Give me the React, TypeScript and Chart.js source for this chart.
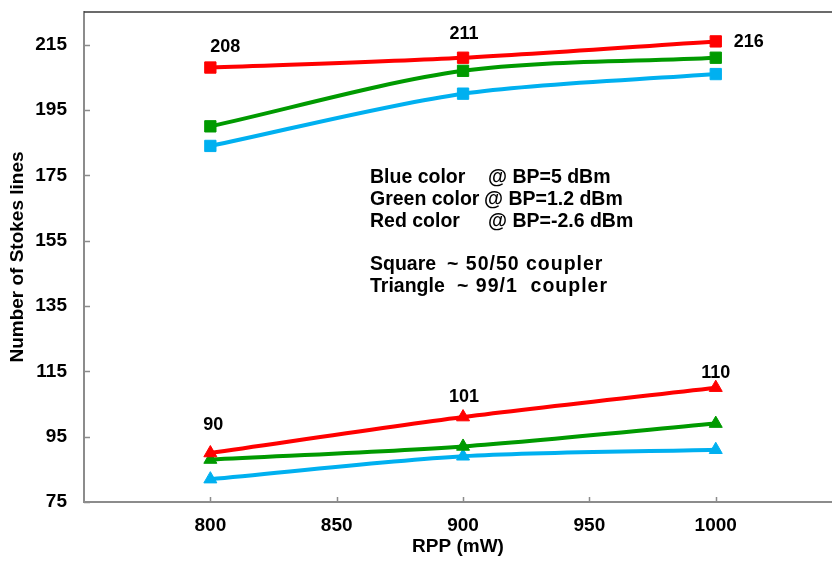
import React, { useEffect, useRef } from 'react';
import { Chart, registerables } from 'chart.js';

Chart.register(...registerables);

// ---- data ----
const rppValues = [800, 900, 1000];
const redSquare = [208, 211, 216];
const greenSquare = [190, 207, 211];
const blueSquare = [184, 200, 206];
const redTriangle = [90, 101, 110];
const greenTriangle = [88, 92, 99];
const blueTriangle = [82, 89, 91];

const xTickValues = [800, 850, 900, 950, 1000];
const yTickValues = [75, 95, 115, 135, 155, 175, 195, 215];

const noteRows = [
  ['Blue color', '@ BP=5 dBm'],
  ['Green color', '@ BP=1.2 dBm'],
  ['Red color', '@ BP=-2.6 dBm'],
  ['Square', '~ 50/50 coupler'],
  ['Triangle', '~ 99/1  coupler'],
];

// ---- styles / layout ----
const FONT = '"Liberation Sans", Arial, sans-serif';
const RED = '#FF0000';
const GREEN = '#009A00';
const BLUE = '#00B0F0';
const AXIS = '#8C8C8C';

// label offsets (px) from the point for the annotated series
const redSquareLabelOffsets = [[15, -21], [1, -24], [33, 1]];
const redTriangleLabelOffsets = [[3, -28], [1, -20], [0, -15]];

// note text placement (px): column x, baselines, extra letter spacing
const noteCol1X = 370;
const noteCol2X = [488, 484, 488, 447, 457];
const noteBaselines = [183, 205, 227, 270, 292];
const noteCol2Spacing = ['0px', '0px', '0px', '1px', '1px'];

function toPoints(ys: number[]) {
  return rppValues.map((x, i) => ({ x, y: ys[i] }));
}

function series(label: string, ys: number[], color: string, style: string, radius: number) {
  return {
    label,
    data: toPoints(ys),
    borderColor: color,
    backgroundColor: color,
    borderWidth: 4,
    pointStyle: style,
    pointRadius: radius,
    pointHoverRadius: radius,
    pointBorderWidth: 1,
    pointBorderColor: color,
    pointBackgroundColor: color,
    tension: 0.3,
    fill: false,
  };
}

const decorPlugin = {
  id: 'decor',
  beforeDatasetsDraw(chart: any) {
    const { ctx, chartArea, scales } = chart;
    ctx.save();
    // top border of plot area
    ctx.strokeStyle = '#3A3A3A';
    ctx.lineWidth = 1.5;
    ctx.beginPath();
    ctx.moveTo(chartArea.left, chartArea.top);
    ctx.lineTo(chartArea.right, chartArea.top);
    ctx.stroke();
    // inward tick marks
    ctx.strokeStyle = AXIS;
    ctx.lineWidth = 1.5;
    ctx.beginPath();
    scales.y.ticks.forEach((t: any) => {
      const py = Math.round(scales.y.getPixelForValue(t.value)) + 0.5;
      ctx.moveTo(chartArea.left, py);
      ctx.lineTo(chartArea.left + 6, py);
    });
    scales.x.ticks.forEach((t: any) => {
      const px = Math.round(scales.x.getPixelForValue(t.value)) + 0.5;
      ctx.moveTo(px, chartArea.bottom);
      ctx.lineTo(px, chartArea.bottom - 5);
    });
    ctx.stroke();
    ctx.restore();
  },
  afterDatasetsDraw(chart: any) {
    const { ctx } = chart;
    ctx.save();
    ctx.fillStyle = '#000';
    ctx.font = `bold 18px ${FONT}`;
    ctx.textAlign = 'center';
    ctx.textBaseline = 'middle';
    const drawLabels = (dsIndex: number, values: number[], offsets: number[][]) => {
      const meta = chart.getDatasetMeta(dsIndex);
      meta.data.forEach((pt: any, i: number) => {
        ctx.fillText(String(values[i]), pt.x + offsets[i][0], pt.y + offsets[i][1]);
      });
    };
    drawLabels(0, redSquare, redSquareLabelOffsets);
    drawLabels(3, redTriangle, redTriangleLabelOffsets);

    // note text
    ctx.font = `bold 19.5px ${FONT}`;
    ctx.textAlign = 'left';
    ctx.textBaseline = 'alphabetic';
    noteRows.forEach((row, i) => {
      ctx.letterSpacing = '0px';
      ctx.fillText(row[0], noteCol1X, noteBaselines[i]);
      ctx.letterSpacing = noteCol2Spacing[i];
      ctx.fillText(row[1], noteCol2X[i], noteBaselines[i]);
    });
    ctx.letterSpacing = '0px';
    ctx.restore();
  },
};

const zeroPad = (scale: any) => {
  scale.paddingTop = 0;
  scale.paddingBottom = 0;
  scale.paddingLeft = 0;
  scale.paddingRight = 0;
};

export default function App() {
  const ref = useRef<HTMLCanvasElement>(null);
  useEffect(() => {
    if (!ref.current) return;
    const chart = new Chart(ref.current, {
      type: 'line',
      data: {
        datasets: [
          series('Red square', redSquare, RED, 'rect', 8),
          series('Green square', greenSquare, GREEN, 'rect', 8),
          series('Blue square', blueSquare, BLUE, 'rect', 8),
          series('Red triangle', redTriangle, RED, 'triangle', 7.5),
          series('Green triangle', greenTriangle, GREEN, 'triangle', 7.5),
          series('Blue triangle', blueTriangle, BLUE, 'triangle', 7.5),
        ] as any,
      },
      options: {
        animation: false,
        responsive: false,
        layout: { autoPadding: false, padding: { top: 12, right: 0, left: 0, bottom: 0 } },
        plugins: {
          legend: { display: false },
          tooltip: { enabled: false },
        },
        scales: {
          x: {
            type: 'linear',
            min: 750,
            max: 1046,
            afterBuildTicks: (scale: any) => {
              scale.ticks = xTickValues.map((v) => ({ value: v }));
            },
            afterFit: (scale: any) => {
              scale.height = 61;
              zeroPad(scale);
            },
            grid: { display: false, drawTicks: false },
            border: { display: true, color: AXIS, width: 2 },
            ticks: {
              padding: 12,
              color: '#000',
              font: { family: FONT, size: 19, weight: 'bold' },
              maxRotation: 0,
              callback: (v: any) => String(v),
            },
            title: {
              display: true,
              text: 'RPP (mW)',
              color: '#000',
              font: { family: FONT, size: 19, weight: 'bold' },
              padding: { top: 0, bottom: 5 },
            },
          },
          y: {
            type: 'linear',
            min: 75,
            max: 225,
            afterBuildTicks: (scale: any) => {
              scale.ticks = yTickValues.map((v) => ({ value: v }));
            },
            afterFit: (scale: any) => {
              scale.width = 84;
              zeroPad(scale);
            },
            grid: { display: false, drawTicks: false },
            border: { display: true, color: AXIS, width: 2 },
            ticks: {
              padding: 17,
              color: '#000',
              font: { family: FONT, size: 19, weight: 'bold' },
              callback: (v: any) => String(v),
            },
            title: {
              display: true,
              text: 'Number of Stokes lines',
              color: '#000',
              font: { family: FONT, size: 19, weight: 'bold' },
              padding: { top: 6.5, bottom: 0 },
            },
          },
        },
      } as any,
      plugins: [decorPlugin],
    });
    return () => chart.destroy();
  }, []);

  return (
    <div style={{ position: 'absolute', left: 0, top: 0, width: 832, height: 563, background: '#fff' }}>
      <canvas ref={ref} width={832} height={563} style={{ display: 'block' }} />
    </div>
  );
}
